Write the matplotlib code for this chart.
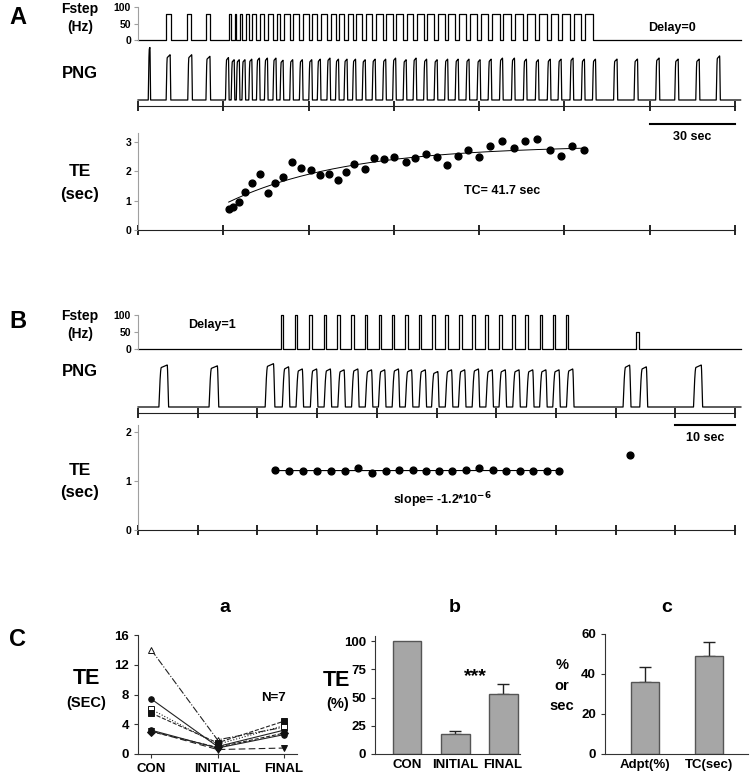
import numpy as np
import matplotlib.pyplot as plt

plt.rcParams['font.family'] = ['Liberation Sans', 'DejaVu Sans']
plt.rcParams['font.weight'] = 'bold'
plt.rcParams['mathtext.default'] = 'bf'

#-----------------Panel A data (time in sec)--------------------------
a_burst_t = [4.0, 10.7, 18.3, 24.7, 31.4, 33.4, 35.2, 37.2, 39.6, 42.3, 45.1, 48.1,
             50.6, 54.0, 57.4, 60.7, 63.7, 67.1, 70.1, 73.1, 76.1, 79.5, 83.0, 86.7,
             90.2, 93.9, 97.4, 101.1, 104.8, 108.5, 112.2, 116.0, 119.9, 123.8, 127.8,
             132.0, 136.2, 140.4, 144.6, 148.4, 152.6, 156.6, 160.5, 168.0, 175.2,
             182.8, 189.5, 196.9, 204.1]
a_burst_h = [1.0, 0.85, 0.85, 0.82, 0.8, 0.76, 0.76, 0.76, 0.77, 0.79, 0.79, 0.79,
             0.75, 0.76, 0.76, 0.76, 0.77, 0.79, 0.77, 0.77, 0.77, 0.76, 0.77, 0.77,
             0.79, 0.76, 0.79, 0.77, 0.76, 0.77, 0.77, 0.77, 0.76, 0.77, 0.79, 0.79,
             0.77, 0.76, 0.77, 0.77, 0.79, 0.77, 0.77, 0.77, 0.77, 0.79, 0.77, 0.77, 0.83]
a_burst_w = [0.8, 1.6, 1.6, 1.6] + [1.25] * 39 + [1.4] * 6
a_test_on = [9.9, 17.1, 23.8]
a_test_off = [11.6, 18.8, 25.5]
a_train_first, a_train_last = 4, 41
a_fstep_hz = 80

a_te_t = [31.9, 33.5, 35.4, 37.6, 40.1, 42.8, 45.8, 48.3, 51.0, 54.0, 57.5, 60.9, 64.1,
          67.1, 70.3, 73.1, 76.1, 79.7, 83.0, 86.7, 90.2, 94.1, 97.6, 101.3, 105.1,
          108.8, 112.4, 116.0, 120.1, 123.9, 128.0, 132.1, 136.3, 140.5, 144.9, 148.9,
          152.6, 156.8]
a_te = [0.73, 0.78, 0.94, 1.29, 1.59, 1.90, 1.27, 1.59, 1.81, 2.30, 2.11, 2.03, 1.86,
        1.89, 1.70, 1.96, 2.26, 2.08, 2.45, 2.43, 2.49, 2.32, 2.46, 2.59, 2.49, 2.22,
        2.53, 2.72, 2.49, 2.87, 3.03, 2.79, 3.02, 3.10, 2.71, 2.51, 2.87, 2.71]
a_tc = 41.7
a_fit_plateau, a_fit_amp = 2.88, 1.93

#-----------------Panel B data--------------------------
b_burst_t = [4.3, 12.7, 22.1, 24.8, 27.1, 29.5, 31.8, 34.1, 36.4, 38.7, 40.9, 43.2,
             45.4, 47.7, 49.8, 52.1, 54.3, 56.6, 58.9, 61.1, 63.4, 65.7, 67.9, 70.1,
             72.4, 81.9, 84.7, 93.8]
b_burst_h = [0.97, 0.95, 1.0, 0.93, 0.88, 0.88, 0.88, 0.86, 0.88, 0.86, 0.86, 0.88,
             0.86, 0.86, 0.82, 0.86, 0.86, 0.88, 0.86, 0.86, 0.86, 0.86, 0.86, 0.86,
             0.88, 0.97, 0.93, 0.97]
b_burst_w = [1.6, 1.6, 1.6] + [1.25] * 22 + [1.3, 1.3, 1.5]
b_pulse_on = [23.9, 26.3, 28.7, 31.1, 33.4, 35.7, 38.0, 40.3, 42.5, 44.8, 47.0, 49.3,
              51.5, 53.8, 56.0, 58.2, 60.5, 62.7, 64.9, 67.3, 69.5, 71.7, 83.5]
b_pulse_w = [0.4] * 22 + [0.5]
b_pulse_hz = [100] * 22 + [50]

b_te_t = [22.9, 25.3, 27.6, 30.0, 32.3, 34.6, 36.9, 39.2, 41.5, 43.8, 46.0, 48.2, 50.4,
          52.6, 54.9, 57.1, 59.4, 61.7, 64.0, 66.2, 68.5, 70.6]
b_te = [1.23, 1.21, 1.21, 1.21, 1.21, 1.21, 1.26, 1.17, 1.21, 1.23, 1.23, 1.21, 1.21,
        1.21, 1.23, 1.26, 1.23, 1.21, 1.21, 1.21, 1.21, 1.21]
b_extra_t, b_extra_te = 82.4, 1.53

#-----------------Panel C data--------------------------
c_groups = ['CON', 'INITIAL', 'FINAL']
ca_subjects = [[14.0, 1.9, 3.6], [7.4, 1.0, 3.2], [6.0, 1.3, 3.8], [5.5, 1.5, 4.4],
               [3.2, 0.8, 2.6], [3.0, 0.9, 2.8], [3.1, 0.6, 0.8]]
ca_markers = ['^', 'o', 's', 's', 'o', 'D', 'v']
ca_filled = [False, True, False, True, True, True, True]
ca_styles = ['-.', '-', ':', '--', '-', '--', (0, (6, 3))]

cb_vals = [100, 17.6, 53.2]
cb_err = [0, 3.0, 9.2]

cc_labels = ['Adpt(%)', 'TC(sec)']
cc_vals = [36.1, 48.8]
cc_err = [7.4, 7.4]

#-----------------helpers--------------------------
W, H = 750, 779
fig = plt.figure(figsize=(7.5, 7.79), dpi=100)


def add_ax(l, t, r, b):
    return fig.add_axes([l / W, 1 - b / H, (r - l) / W, (b - t) / H])


def ftext(x, y, s, size, **kw):
    fig.text(x / W, 1 - y / H, s, ha='center', va='center', fontsize=size,
             fontweight='bold', **kw)


def burst_trace(t, centers, widths, heights):
    y = np.zeros_like(t)
    for c, w, h in zip(centers, widths, heights):
        s, e = c - w / 2, c + w / 2
        rise = np.sin(np.pi / 2 * np.clip((t - s) / 0.4, 0, 1))
        fall = np.sin(np.pi / 2 * np.clip((e - t) / 0.22, 0, 1))
        y = np.maximum(y, h * rise * fall * (0.9 + 0.1 * np.clip((t - s) / w, 0, 1)))
    return y


def step_xy(ons, offs, levels, t_end):
    xs, ys = [0], [0]
    for on, off, lv in zip(ons, offs, levels):
        xs += [on, on, off, off]
        ys += [0, lv, lv, 0]
    xs.append(t_end)
    ys.append(0)
    return xs, ys


def fstep_axes(top, bot, xmax):
    ax = add_ax(138, top, 735, bot)
    ax.set_xlim(0, xmax)
    ax.set_ylim(0, 100)
    for s in ['top', 'right', 'bottom']:
        ax.spines[s].set_visible(False)
    ax.spines['left'].set_color('#a0a0a0')
    ax.set_xticks([])
    ax.set_yticks([0, 50, 100])
    ax.tick_params(axis='y', length=3, color='#a0a0a0', labelsize=7.5, pad=2)
    return ax


def time_axis(ax, xmax, step):
    ax.set_xlim(0, xmax)
    ax.set_xticks(np.arange(0, xmax + 0.1, step))
    ax.tick_params(axis='x', direction='inout', length=7, width=1.2, labelbottom=False)
    ax.spines['bottom'].set_color('#222222')


#-----------------Panel A--------------------------
tA = np.arange(0, 212, 0.02)
ax = fstep_axes(7, 40, 210)
ons = a_test_on + [a_burst_t[i] + a_burst_w[i] / 2 for i in range(a_train_first, a_train_last + 1)]
offs = a_test_off + [a_burst_t[i + 1] - a_burst_w[i + 1] / 2 for i in range(a_train_first, a_train_last + 1)]
xs, ys = step_xy(ons, offs, [a_fstep_hz] * len(ons), 212)
ax.plot(xs, ys, color='black', lw=0.9, clip_on=False)

ax = add_ax(138, 46, 735, 100)
ax.set_xlim(0, 210)
ax.set_ylim(0, 1)
ax.axis('off')
ax.plot(tA, burst_trace(tA, a_burst_t, a_burst_w, a_burst_h), color='black', lw=0.9, clip_on=False)

ax = add_ax(138, 90, 735, 106)
for s in ['top', 'right', 'left']:
    ax.spines[s].set_visible(False)
ax.set_yticks([])
ax.patch.set_visible(False)
time_axis(ax, 210, 30)

ax = add_ax(138, 133, 735, 230)
for s in ['top', 'right']:
    ax.spines[s].set_visible(False)
ax.spines['left'].set_color('#a0a0a0')
time_axis(ax, 210, 30)
ax.set_ylim(0, 3.3)
ax.set_yticks([0, 1, 2, 3])
ax.tick_params(axis='y', length=3, color='#a0a0a0', labelsize=7.5, pad=2)
ax.scatter(a_te_t, a_te, s=24, color='black', zorder=3, clip_on=False)
tf = np.linspace(a_te_t[0], a_te_t[-1], 200)
ax.plot(tf, a_fit_plateau - a_fit_amp * np.exp(-(tf - a_te_t[0]) / a_tc), color='black', lw=0.7)
ax.plot([180, 210], [3.6, 3.6], color='black', lw=1.5, clip_on=False)
ax.text(195, 3.15, '30 sec', ha='center', va='center', fontsize=9, fontweight='bold')
ax.text(128, 1.32, 'TC= 41.7 sec', ha='center', va='center', fontsize=9, fontweight='bold')

ftext(18, 17, 'A', 17)
ftext(80, 9, 'Fstep', 10)
ftext(80, 27, '(Hz)', 10)
ftext(80, 73, 'PNG', 12)
ftext(80, 172, 'TE', 12.5)
ftext(80, 194, '(sec)', 12)
ftext(672, 28, 'Delay=0', 9)

#-----------------Panel B--------------------------
tB = np.arange(0, 101, 0.01)
ax = fstep_axes(315, 349, 100)
xs, ys = step_xy(b_pulse_on, [o + w for o, w in zip(b_pulse_on, b_pulse_w)], b_pulse_hz, 101)
ax.plot(xs, ys, color='black', lw=0.9, clip_on=False)

ax = add_ax(138, 363, 735, 407)
ax.set_xlim(0, 100)
ax.set_ylim(0, 1)
ax.axis('off')
ax.plot(tB, burst_trace(tB, b_burst_t, b_burst_w, b_burst_h), color='black', lw=0.9, clip_on=False)

ax = add_ax(138, 400, 735, 413)
for s in ['top', 'right', 'left']:
    ax.spines[s].set_visible(False)
ax.set_yticks([])
ax.patch.set_visible(False)
time_axis(ax, 100, 10)

ax = add_ax(138, 425, 735, 530)
for s in ['top', 'right']:
    ax.spines[s].set_visible(False)
ax.spines['left'].set_color('#a0a0a0')
time_axis(ax, 100, 10)
ax.set_ylim(0, 2.15)
ax.set_yticks([0, 1, 2])
ax.tick_params(axis='y', length=3, color='#a0a0a0', labelsize=7.5, pad=2)
ax.scatter(b_te_t, b_te, s=24, color='black', zorder=3)
ax.scatter([b_extra_t], [b_extra_te], s=24, color='black', zorder=3)
p = np.polyfit(b_te_t, b_te, 1)
ax.plot([b_te_t[0], b_te_t[-1]], np.polyval(p, [b_te_t[0], b_te_t[-1]]), color='black', lw=0.8)
ax.plot([90, 100], [2.14, 2.14], color='black', lw=1.5, clip_on=False)
ax.text(95, 1.88, '10 sec', ha='center', va='center', fontsize=9, fontweight='bold')
ax.text(51, 0.61, 'slope= -1.2*10$^{-6}$', ha='center', va='center', fontsize=9, fontweight='bold')

ftext(18, 322, 'B', 17)
ftext(80, 316, 'Fstep', 10)
ftext(80, 334, '(Hz)', 10)
ftext(80, 371, 'PNG', 12)
ftext(80, 470, 'TE', 12.5)
ftext(80, 492, '(sec)', 12)
ftext(212, 325, 'Delay=1', 9)

#-----------------Panel C--------------------------
def c_axes(l, t, r, b):
    ax = add_ax(l, t, r, b)
    for s in ['top', 'right']:
        ax.spines[s].set_visible(False)
    for s in ['left', 'bottom']:
        ax.spines[s].set_color('#333333')
    ax.tick_params(labelsize=9.5, length=3, color='#333333')
    return ax


# a
ax = c_axes(138, 635, 297, 754)
xg = np.arange(len(c_groups))
for vals, m, f, ls in zip(ca_subjects, ca_markers, ca_filled, ca_styles):
    ax.plot(xg, vals, linestyle=ls, color='#222222', lw=0.8, marker=m, ms=4,
            mfc='#111111' if f else 'white', mec='#111111', mew=0.7, clip_on=False)
ax.set_xlim(-0.2, 2.2)
ax.set_ylim(0, 16)
ax.set_yticks([0, 4, 8, 12, 16])
ax.set_xticks(xg)
ax.set_xticklabels(c_groups)
ax.text(1.85, 7.5, 'N=7', ha='center', va='center', fontsize=9.5, fontweight='bold')
ftext(225, 607, 'a', 14)
ftext(18, 640, 'C', 17)
ftext(86, 679, 'TE', 15.5)
ftext(86, 703, '(SEC)', 10.5)

# b
ax = c_axes(375, 636, 520, 754)
xb = np.arange(len(c_groups))
ax.bar(xb, cb_vals, width=0.6, color='#a6a6a6', edgecolor='#555555', lw=1, zorder=2)
ax.errorbar(xb[1:], cb_vals[1:], yerr=[[0, 0], cb_err[1:]], fmt='none', ecolor='#222222',
            elinewidth=1, capsize=4, zorder=1)
ax.set_xlim(-0.667, 2.35)
ax.set_ylim(0, 104.5)
ax.set_yticks([0, 25, 50, 75, 100])
ax.set_xticks(xb)
ax.set_xticklabels(c_groups)
ax.tick_params(axis='x', length=0)
ax.text(1.43, 69, '***', ha='center', va='center', fontsize=14, fontweight='bold')
ftext(455, 607, 'b', 14)
ftext(336, 680, 'TE', 15.5)
ftext(338, 704, '(%)', 10.5)

# c
ax = c_axes(605, 634, 748, 754)
xc = np.arange(len(cc_labels))
ax.bar(xc, cc_vals, width=0.45, color='#a6a6a6', edgecolor='#555555', lw=1, zorder=2)
ax.errorbar(xc, cc_vals, yerr=[[0, 0], cc_err], fmt='none', ecolor='#222222',
            elinewidth=1, capsize=4, zorder=1)
ax.set_xlim(-0.625, 1.61)
ax.set_ylim(0, 60)
ax.set_yticks([0, 20, 40, 60])
ax.set_xticks(xc)
ax.set_xticklabels(cc_labels)
ax.tick_params(axis='x', length=0)
ftext(667, 607, 'c', 14)
ftext(562, 665, '%', 10.5)
ftext(562, 686, 'or', 10.5)
ftext(562, 706, 'sec', 10.5)

fig.savefig('out.png', dpi=100)
